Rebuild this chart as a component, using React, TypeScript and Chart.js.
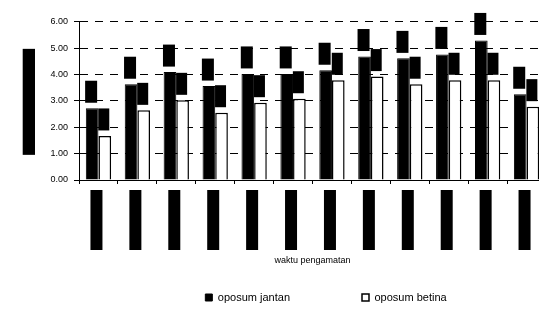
import { useEffect, useRef } from "react";
import { Chart, registerables } from "chart.js";

Chart.register(...registerables);

// ---- data ----
const categories = [
  "18.00-19.00", "19.00-20.00", "20.00-21.00", "21.00-22.00",
  "22.00-23.00", "23.00-24.00", "24.00-01.00", "01.00-02.00",
  "02.00-03.00", "03.00-04.00", "04.00-05.00", "05.00-06.00",
];
const jantan = [2.72, 3.63, 4.09, 3.56, 4.02, 4.02, 4.16, 4.68, 4.61, 4.76, 5.29, 3.25];
const betina = [1.67, 2.64, 3.02, 2.55, 2.93, 3.08, 3.78, 3.92, 3.63, 3.78, 3.78, 2.78];
const seriesNames = ["oposum jantan", "oposum betina"];
const yMin = 0;
const yMax = 6;
const yStep = 1;
const yTitle = "rata-rata aktivitas";
const xTitle = "waktu pengamatan";

const FONT = "Arial, 'Liberation Sans', sans-serif";
const CANVAS_W = 652;
const CANVAS_H = 316;
const RIGHT_W = 106;
const Y_W = 79;
const Y_TITLE_PAD = 22.7;
const LEG_PAD = 72;
const LEG_FONT = 11;
const PAD_B = 3;
const X_H = 40;

const redactPlugin = {
  id: "redact",
  afterDatasetsDraw(chart: any) {
    const ctx = chart.ctx;
    ctx.save();
    chart.data.datasets.forEach((ds: any, di: number) => {
      const meta = chart.getDatasetMeta(di);
      meta.data.forEach((el: any, i: number) => {
        const w = di === 0 ? 12 : 11;
        const h = 22;
        const cx = el.x - 1;
        const bottom = el.y - 5.5;
        ctx.fillStyle = "#000";
        ctx.fillRect(cx - w / 2, bottom - h, w, h);
        ctx.save();
        ctx.translate(cx, bottom - h / 2);
        ctx.rotate(-Math.PI / 2);
        ctx.font = `8px ${FONT}`;
        ctx.textAlign = "center";
        ctx.textBaseline = "middle";
        ctx.fillText(Number(ds.data[i]).toFixed(2), 0, 0);
        ctx.restore();
      });
    });
    ctx.restore();
  },
  afterDraw(chart: any) {
    const ctx = chart.ctx;
    const xs = chart.scales.x;
    const ys = chart.scales.y;
    const area = chart.chartArea;
    ctx.save();
    ctx.fillStyle = "#000";
    categories.forEach((_, i) => {
      const x = xs.getPixelForValue(i);
      ctx.fillRect(x - 8, xs.top + 10, 12, 60);
    });
    const midY = (area.top + area.bottom) / 2 + 1;
    ctx.fillRect(ys.left + Y_TITLE_PAD, midY - 53, 12.3, 106);
    ctx.restore();
  },
};

export default function App() {
  const ref = useRef<HTMLCanvasElement | null>(null);
  useEffect(() => {
    if (!ref.current) return;
    const chart = new Chart(ref.current, {
      type: "bar",
      data: {
        labels: categories,
        datasets: [
          {
            label: seriesNames[0],
            data: jantan,
            backgroundColor: "#000",
            borderColor: "#000",
            borderWidth: 1,
            categoryPercentage: 0.65,
            barPercentage: 1,
          },
          {
            label: seriesNames[1],
            data: betina,
            backgroundColor: "#fff",
            borderColor: "#000",
            borderWidth: 1.5,
            categoryPercentage: 0.65,
            barPercentage: 1,
          },
        ],
      },
      options: {
        responsive: false,
        animation: false,
        devicePixelRatio: 1,
        layout: { padding: { left: 0, right: 0, top: 21.7, bottom: PAD_B } },
        plugins: {
          tooltip: { enabled: false },
          legend: {
            position: "bottom",
            labels: {
              boxWidth: 7,
              boxHeight: 7,
              padding: LEG_PAD,
              color: "#000",
              font: { family: FONT, size: LEG_FONT },
            },
          },
        },
        scales: {
          x: {
            grid: {
              display: true,
              drawOnChartArea: false,
              drawTicks: true,
              tickLength: 4,
              color: "#000",
              offset: true,
            },
            border: { display: true, color: "#000", width: 1 },
            ticks: {
              color: "#000",
              font: { family: FONT, size: 8 },
              minRotation: 90,
              maxRotation: 90,
              autoSkip: false,
              padding: 14,
            },
            title: {
              display: true,
              text: xTitle,
              color: "#000",
              font: { family: FONT, size: 9 },
              padding: { top: 0, bottom: -46.4 },
            },
            afterFit: (s: any) => {
              s.height = X_H;
            },
          },
          y: {
            min: yMin,
            max: yMax,
            grid: {
              color: "#000",
              lineWidth: 1,
              drawTicks: true,
              tickLength: 5,
            },
            border: { display: true, color: "#000", width: 1, dash: [8, 7] },
            ticks: {
              stepSize: yStep,
              color: "#000",
              padding: 6,
              font: { family: FONT, size: 9 },
              callback: (v: any) => Number(v).toFixed(2),
            },
            title: {
              display: true,
              text: yTitle,
              color: "#000",
              font: { family: FONT, size: 10 },
              padding: { top: Y_TITLE_PAD, bottom: 0 },
            },
            afterFit: (s: any) => {
              s.width = Y_W;
            },
          },
          y2: {
            type: "linear",
            position: "right",
            display: true,
            grid: { display: false, drawTicks: false },
            border: { display: false },
            ticks: { display: false },
            afterFit: (s: any) => {
              s.width = RIGHT_W;
            },
          },
        },
      },
      plugins: [redactPlugin],
    } as any);
    return () => chart.destroy();
  }, []);

  return (
    <div
      style={{
        position: "fixed",
        left: 0,
        top: 0,
        width: 539,
        height: CANVAS_H,
        overflow: "hidden",
        background: "#fff",
      }}
    >
      <canvas
        ref={ref}
        width={CANVAS_W}
        height={CANVAS_H}
        style={{ display: "block", width: CANVAS_W, height: CANVAS_H }}
      />
    </div>
  );
}
